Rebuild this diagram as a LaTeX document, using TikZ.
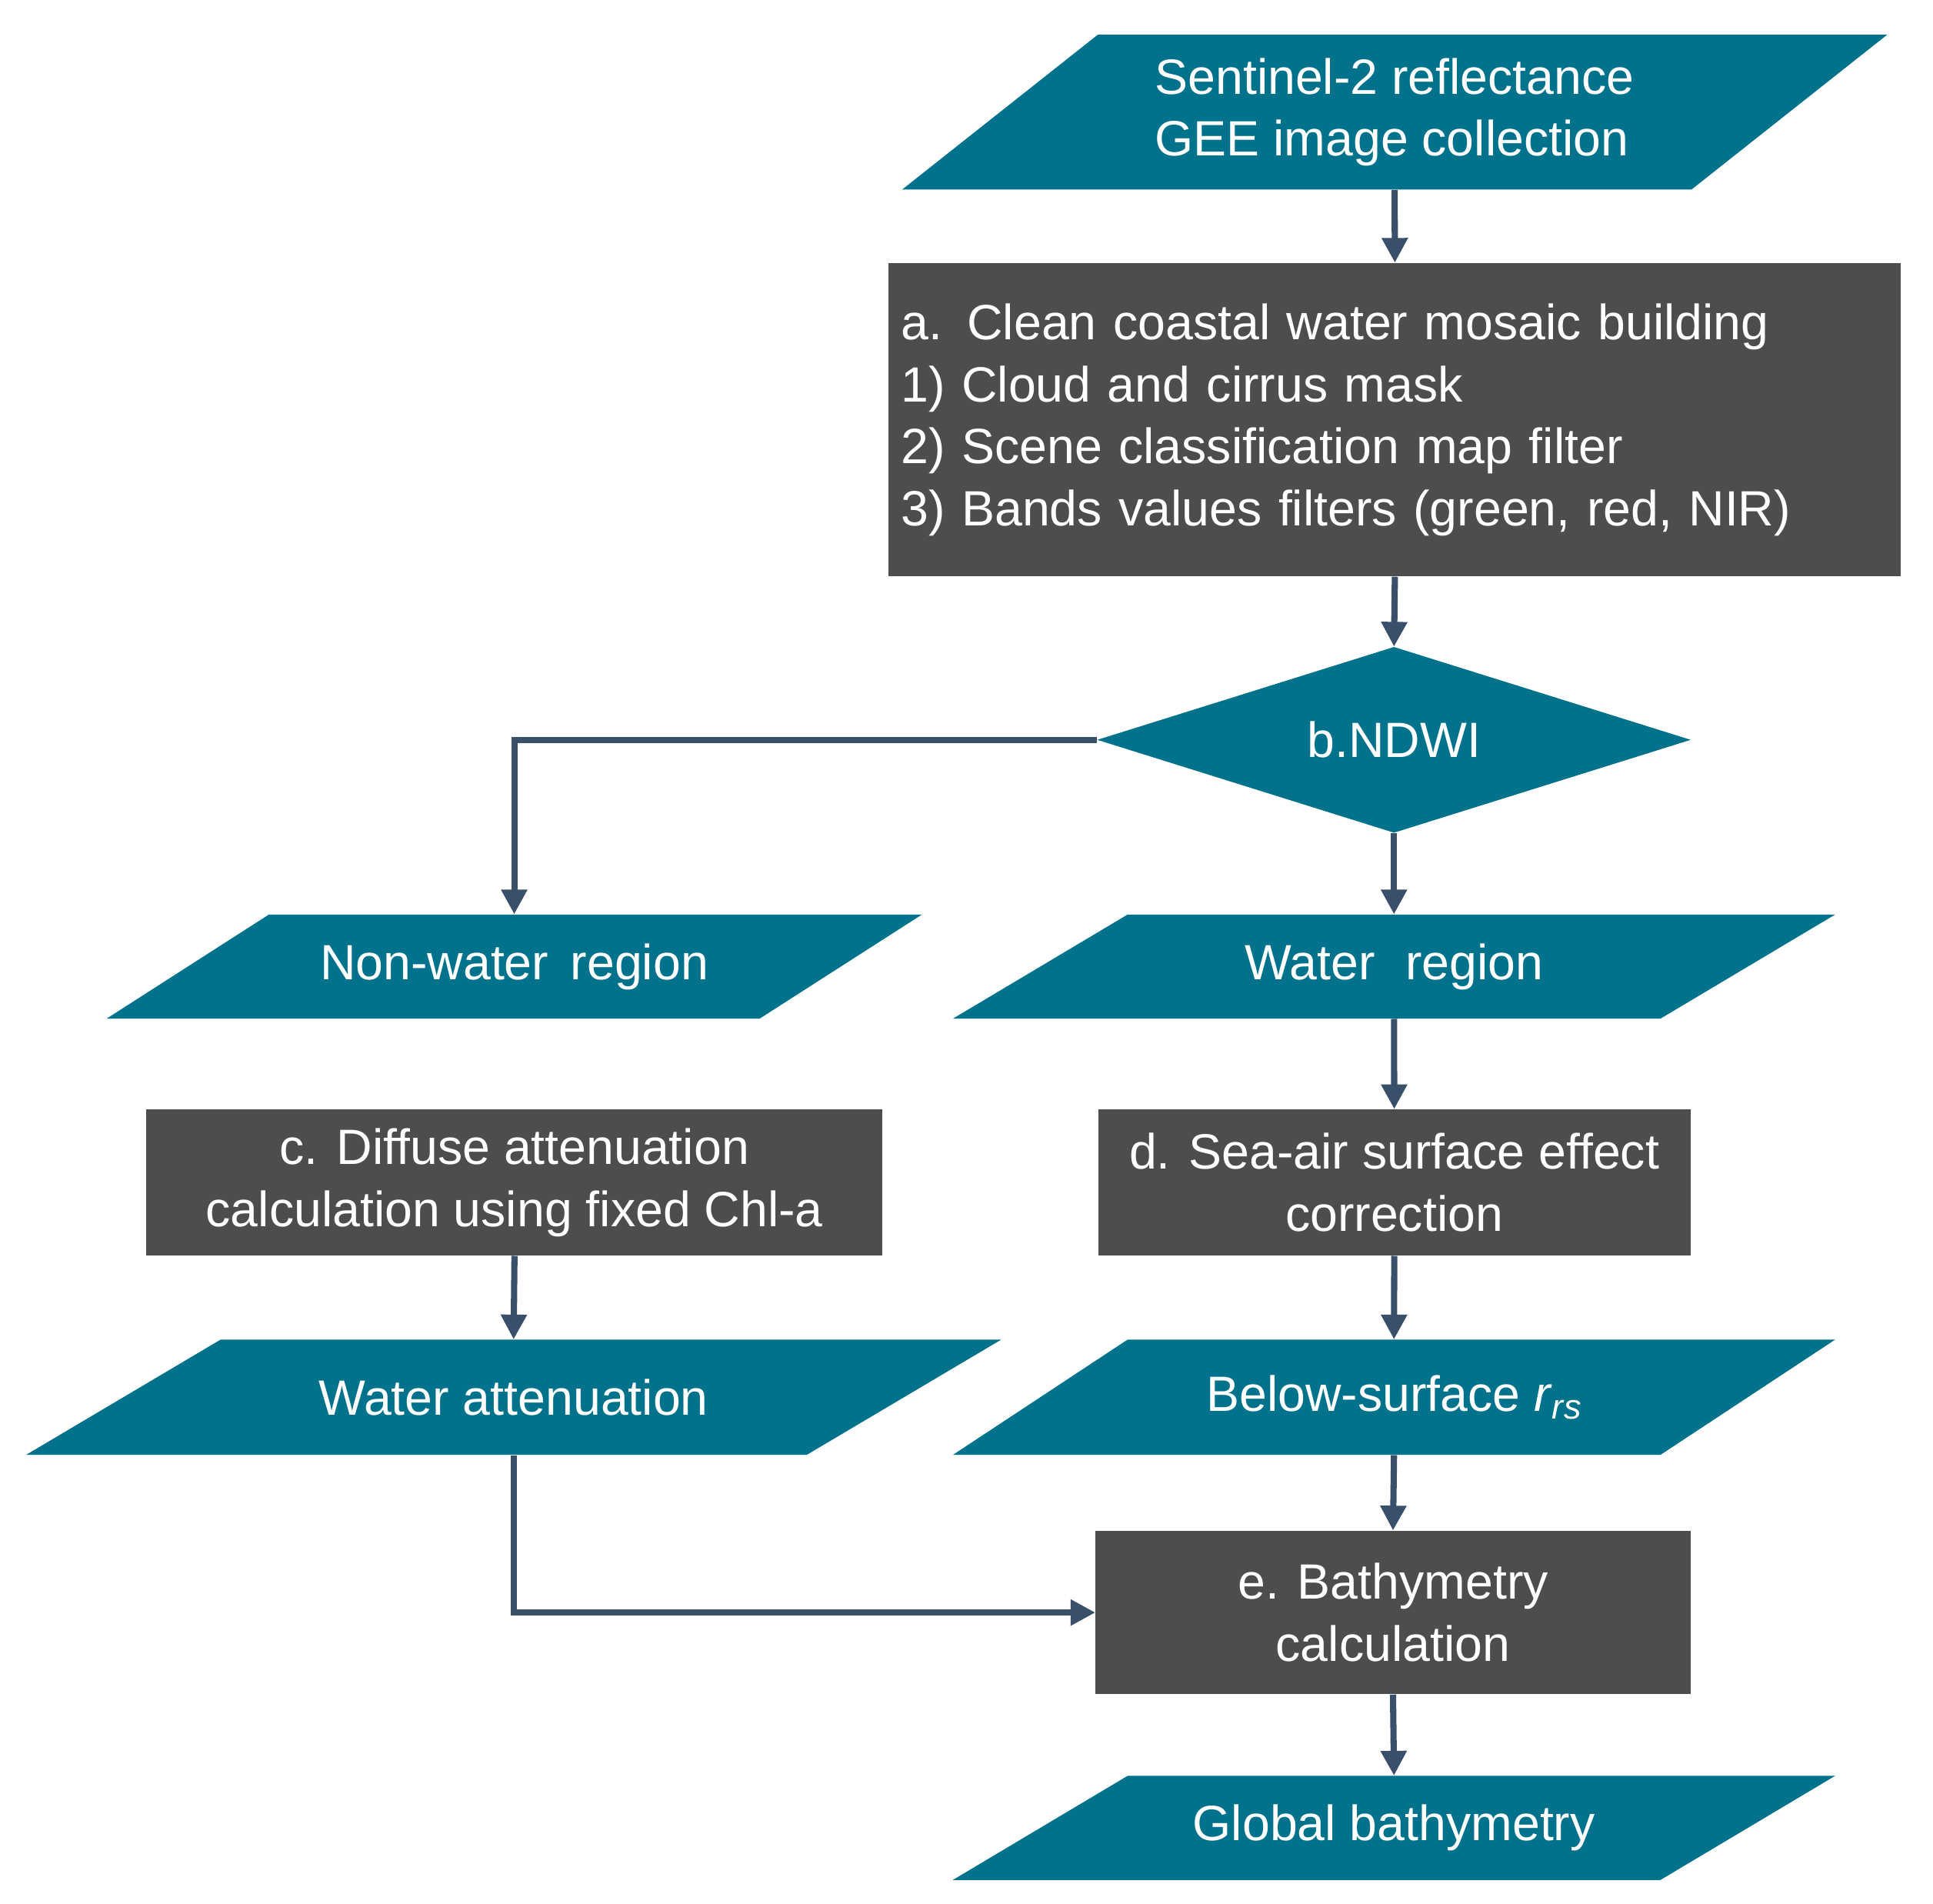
\documentclass[tikz,border=0pt]{standalone}
\usepackage{fontspec}
\setmainfont{Liberation Sans}
\usetikzlibrary{shapes.geometric,arrows.meta}
\definecolor{tealc}{HTML}{00728C}
\definecolor{boxc}{HTML}{4D4D4D}
\definecolor{arrc}{HTML}{3A4F6A}
\tikzset{
  txt/.style={text=white,font=\fontsize{40}{50}\selectfont,inner sep=0pt},
  box/.style={fill=boxc,text=white,font=\fontsize{40}{50}\selectfont,align=center,inner sep=0pt},
  arr/.style={draw=arrc,line width=5pt,-{Triangle[length=20pt,width=20pt]}}
}
\newcommand\mypara[7]{%
  \fill[tealc] (#2,#5) -- ({#2+#6},#4) -- (#3,#4) -- ({#3-#6},#5) -- cycle;
  \node[minimum width={(#3-#2)*1pt},minimum height={(#5-#4)*1pt},inner sep=0pt] (#1) at ({(#2+#3)/2},{(#4+#5)/2}) {};
  \node[txt,align=left] (#1t) at (#1) {#7};}
\begin{document}
\begin{tikzpicture}[x=1pt,y=-1pt]
\useasboundingbox (0,0) rectangle (1560,1536);
\mypara{p1}{728}{1523}{28}{153}{158}{Sentinel-2 reflectance\\GEE image collection}
\node[box,align=left,text width=797pt,inner xsep=10pt,minimum height=253pt,anchor=north west] (a) at (717,212)
 {a. Clean coastal water mosaic building\\1) Cloud and cirrus mask\\2) Scene classification map filter\\3) Bands values filters (green, red, NIR)};
\node[diamond,fill=tealc,aspect=3.2,minimum width=479pt,minimum height=150pt,inner sep=0pt,text=white,font=\fontsize{40}{50}\selectfont] (nd) at (1125,597) {b.NDWI};
\mypara{nw}{86}{744}{738}{822}{131}{Non-water\, region}
\mypara{wr}{769}{1481}{738}{822}{141}{Water\,\, region}
\node[box,minimum width=594pt,minimum height=118pt,anchor=north west] (c) at (118,895) {c. Diffuse attenuation\\calculation using fixed Chl-a};
\node[box,minimum width=478pt,minimum height=118pt,anchor=north west] (d) at (886,895) {d. Sea-air surface effect\\correction};
\mypara{wa}{21}{808}{1081}{1174}{157}{Water attenuation}
\mypara{bs}{769}{1481}{1081}{1174}{141}{Below-surface \textit{r}\textsubscript{\textit{rs}}}
\node[box,minimum width=480pt,minimum height=132pt,anchor=north west] (e) at (884,1235) {e. Bathymetry\\calculation};
\mypara{gb}{769}{1481}{1433}{1517}{141}{Global bathymetry}
\draw[arr] (p1.south) -- (a.north);
\draw[arr] (a.south) -- (nd.north);
\draw[arr] (nd.west) -| (nw.north);
\draw[arr] (nd.south) -- (wr.north);
\draw[arr] (wr.south) -- (d.north);
\draw[arr] (c.south) -- (wa.north);
\draw[arr] (d.south) -- (bs.north);
\draw[arr] (bs.south) -- (e.north);
\draw[arr] (wa.south) |- (e.west);
\draw[arr] (e.south) -- (gb.north);
\end{tikzpicture}
\end{document}
